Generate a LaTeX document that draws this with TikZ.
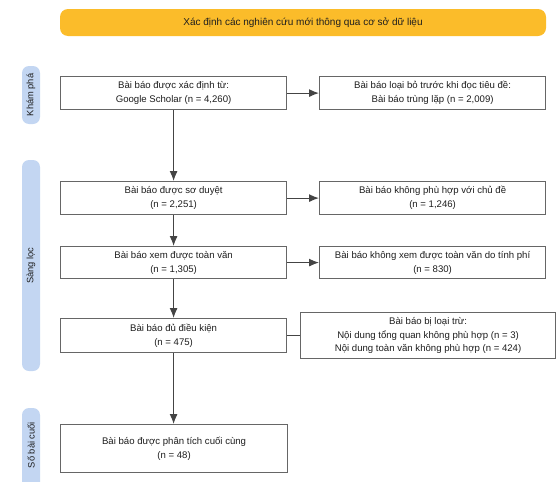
\documentclass[tikz,border=0pt]{standalone}
\usepackage{fontspec}
\setmainfont{Liberation Sans}
\usetikzlibrary{arrows.meta}
\definecolor{boxgray}{HTML}{666666}
\definecolor{linegray}{HTML}{444444}
\definecolor{bannery}{HTML}{FBBC2A}
\definecolor{phaseblue}{HTML}{C3D6F2}
\definecolor{txt}{HTML}{1E1E1E}
\begin{document}
\begin{tikzpicture}[x=1pt,y=-1pt,
  box/.style={draw=boxgray, line width=1.2pt, fill=white, align=center, inner sep=0pt,
    text=txt, font=\fontsize{9.6}{13.8}\selectfont, anchor=north west},
  flow/.style={draw=linegray, line width=1.1pt, -{Latex[length=10pt,width=8pt]}},
  plain/.style={draw=linegray, line width=1.1pt},
  phase/.style={fill=phaseblue, rounded corners=7pt},
  phaselabel/.style={rotate=90, font=\fontsize{9.3}{11}\selectfont, text=txt, inner sep=0pt},
  banner/.style={fill=bannery, rounded corners=8pt, inner sep=0pt, text=txt,
    font=\fontsize{10}{12}\selectfont, minimum width=486pt, minimum height=27pt}]
\useasboundingbox (0,0) rectangle (557,482);
\clip (0,0) rectangle (557,482);

% title banner
\node[banner] (title) at (303,22.5) {Xác định các nghiên cứu mới thông qua cơ sở dữ liệu};

% phase bars
\fill[phase] (22,66) rectangle (40,124);
\node[phaselabel] (p1) at (31,95) {Khám phá};
\fill[phase] (22,160) rectangle (40,371);
\node[phaselabel] (p2) at (31,265.5) {Sàng lọc};
\fill[phase] (22,408) rectangle (40,500);
\node[phaselabel] (p3) at (31,445) {Số bài cuối};

% boxes
\node[box, minimum width=226pt, minimum height=33pt] (b1) at (60,76)
  {Bài báo được xác định từ:\\Google Scholar (n = 4,260)};
\node[box, minimum width=226pt, minimum height=33pt] (b2) at (319,76)
  {Bài báo loại bỏ trước khi đọc tiêu đề:\\Bài báo trùng lặp (n = 2,009)};
\node[box, minimum width=226pt, minimum height=33pt] (b3) at (60,181)
  {Bài báo được sơ duyệt\\(n = 2,251)};
\node[box, minimum width=226pt, minimum height=33pt] (b4) at (319,181)
  {Bài báo không phù hợp với chủ đề\\(n = 1,246)};
\node[box, minimum width=226pt, minimum height=32pt] (b5) at (60,246)
  {Bài báo xem được toàn văn\\(n = 1,305)};
\node[box, minimum width=226pt, minimum height=32pt] (b6) at (319,246)
  {Bài báo không xem được toàn văn do tính phí\\(n = 830)};
\node[box, minimum width=226pt, minimum height=34pt] (b7) at (60,318)
  {Bài báo đủ điều kiện\\(n = 475)};
\node[box, minimum width=255pt, minimum height=46pt] (b8) at (300,312)
  {Bài báo bị loại trừ:\\Nội dung tổng quan không phù hợp (n = 3)\\Nội dung toàn văn không phù hợp (n = 424)};
\node[box, minimum width=227pt, minimum height=48pt] (b9) at (60,424)
  {Bài báo được phân tích cuối cùng\\(n = 48)};

% connectors
\draw[flow] (b1.east) -- (b2.west);
\draw[flow] (b3.east) -- (b4.west);
\draw[flow] (b5.east) -- (b6.west);
\draw[plain] (b7.east) -- (b7.east -| b8.west);
\draw[flow] (b1.south) -- (b3.north);
\draw[flow] (b3.south) -- (b5.north);
\draw[flow] (b5.south) -- (b7.north);
\draw[flow] (b7.south) -- (b7.south |- b9.north);
\end{tikzpicture}
\end{document}
